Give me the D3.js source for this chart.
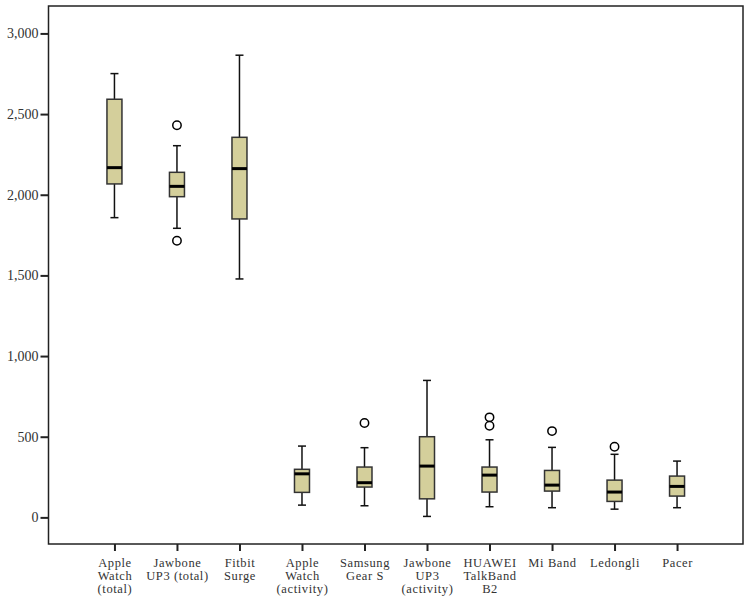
<!DOCTYPE html>
<html><head><meta charset="utf-8">
<script src="https://cdn.jsdelivr.net/npm/d3@7"></script>
<style>body{margin:0;background:#fff}svg{display:block}</style>
</head><body>
<script>
const categories = ["Apple|Watch|(total)","Jawbone|UP3 (total)","Fitbit|Surge","Apple|Watch|(activity)","Samsung|Gear S","Jawbone|UP3|(activity)","HUAWEI|TalkBand|B2","Mi Band","Ledongli","Pacer"];
const lowWhisker = [1858,1792,1478,76,72,6,66,60,51,60];
const q1 = [2067,1988,1850,155,188,115,157,163,99,132];
const median = [2168,2052,2162,270,215,318,262,200,157,192];
const q3 = [2592,2139,2356,298,312,500,312,291,231,256];
const highWhisker = [2751,2304,2865,442,432,849,481,434,391,349];
const outliers = [[],[2431,1715],[],[],[585],[],[620,568],[535],[438],[]];
const yTicks = [0,500,1000,1500,2000,2500,3000];

(function(){
const W=751,H=601;
const svg=d3.select("body").append("svg").attr("width",W).attr("height",H);
const mLeft=48.5,mRight=743,mTop=6,mBottom=544;
const x=d3.scalePoint().domain(categories).range([mLeft,mRight]).padding(1.055);
const y=d3.scaleLinear().domain([-165,3170]).range([mBottom,mTop]);

const font="'Liberation Serif', 'DejaVu Serif', serif";
svg.append("rect").attr("x",mLeft).attr("y",mTop).attr("width",mRight-mLeft).attr("height",mBottom-mTop)
  .attr("fill","none").attr("stroke","#222").attr("stroke-width",1.5);

const yAxis=svg.append("g").attr("transform",`translate(${mLeft},0)`)
  .call(d3.axisLeft(y).tickValues(yTicks).tickSize(8).tickPadding(2).tickFormat(d3.format(",")));
yAxis.select(".domain").remove();
yAxis.selectAll("line").attr("stroke","#222").attr("stroke-width",2);
yAxis.selectAll("text").attr("font-family",font).attr("font-size",14).attr("fill","#333");

const xAxis=svg.append("g").attr("transform",`translate(0,${mBottom})`)
  .call(d3.axisBottom(x).tickSize(7).tickFormat(""));
xAxis.select(".domain").remove();
xAxis.selectAll("line").attr("stroke","#222").attr("stroke-width",2);
xAxis.selectAll(".tick").each(function(d){
  const t=d3.select(this).append("text").attr("fill","#333").attr("font-family",font).attr("font-size",12.5)
    .attr("letter-spacing",0.6).attr("text-anchor","middle");
  d.split("|").forEach((s,i)=>t.append("tspan").attr("x",0).attr("y",23+i*13).text(s));
});

const bw=15,cw=8;
const g=svg.append("g").selectAll("g").data(categories).join("g").attr("transform",d=>`translate(${x(d)},0)`);
g.append("line").attr("y1",(d,i)=>y(highWhisker[i])).attr("y2",(d,i)=>y(lowWhisker[i])).attr("stroke","#111").attr("stroke-width",1.5);
g.append("line").attr("x1",-cw/2).attr("x2",cw/2).attr("y1",(d,i)=>y(highWhisker[i])).attr("y2",(d,i)=>y(highWhisker[i])).attr("stroke","#111").attr("stroke-width",1.5);
g.append("line").attr("x1",-cw/2).attr("x2",cw/2).attr("y1",(d,i)=>y(lowWhisker[i])).attr("y2",(d,i)=>y(lowWhisker[i])).attr("stroke","#111").attr("stroke-width",1.5);
g.append("rect").attr("x",-bw/2).attr("width",bw).attr("y",(d,i)=>y(q3[i])).attr("height",(d,i)=>y(q1[i])-y(q3[i]))
  .attr("fill","#d4cf9b").attr("stroke","#333").attr("stroke-width",1.5);
g.append("line").attr("x1",-bw/2).attr("x2",bw/2).attr("y1",(d,i)=>y(median[i])).attr("y2",(d,i)=>y(median[i])).attr("stroke","#000").attr("stroke-width",3);
g.each(function(d,i){
  d3.select(this).selectAll("circle").data(outliers[i]).join("circle").attr("cx",0).attr("cy",v=>y(v)).attr("r",4.2)
    .attr("fill","#fff").attr("stroke","#000").attr("stroke-width",1.5);
});
})();
</script>
</body></html>
